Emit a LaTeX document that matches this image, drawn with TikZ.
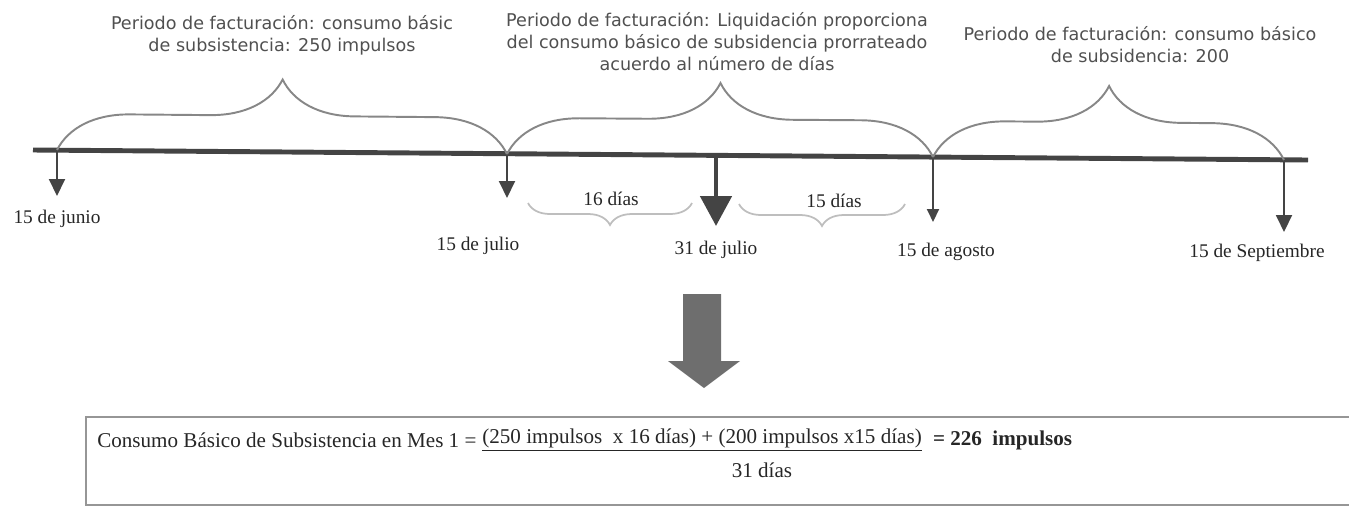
\documentclass[tikz,border=0pt]{standalone}
\usepackage{fontspec}
\setmainfont{Liberation Serif}
\newfontfamily\notefont{DejaVu Sans}
\usetikzlibrary{positioning,calc,decorations.pathreplacing,arrows.meta}
\definecolor{lineDark}{RGB}{68,68,68}
\definecolor{braceGray}{RGB}{135,135,135}
\definecolor{braceLight}{RGB}{190,190,190}
\definecolor{noteGray}{RGB}{80,80,80}
\definecolor{blockGray}{RGB}{110,110,110}
\definecolor{boxGray}{RGB}{150,150,150}

\begin{document}
\begin{tikzpicture}[
  x=0.02cm,y=-0.02cm,
  note/.style={font=\notefont\fontsize{10}{12.5}\selectfont,text=noteGray,align=center,inner sep=0pt},
  datelbl/.style={font=\fontsize{11}{13}\selectfont,text=black!85,inner sep=0pt},
  formula/.style={font=\fontsize{12}{14}\selectfont,text=black!85,inner sep=0pt},
  timeline/.style={line width=2.8pt,lineDark},
  datearrow/.style={-{Triangle[length=0.34cm,width=0.32cm]},line width=1.1pt,lineDark},
  bigarrow/.style={-{Triangle[length=0.6cm,width=0.62cm]},line width=2.8pt,lineDark},
  period/.style={decorate,decoration={brace,amplitude=1.45cm},braceGray,line width=1.1pt},
  dayspan/.style={decorate,decoration={brace,amplitude=0.44cm},braceLight,line width=1pt}
]
  \useasboundingbox (0,0) rectangle (1349,515);

  % time line and dates
  \coordinate (tl w) at (33,150);
  \coordinate (tl e) at (1308,160);
  \draw[timeline] (tl w) -- (tl e);

  \coordinate (jun) at (57,150);   \coordinate (jun tip) at (57,196);
  \coordinate (jul) at (507,154);  \coordinate (jul tip) at (507,198);
  \coordinate (mid) at (716,155);  \coordinate (mid tip) at (716,226);
  \coordinate (ago) at (933,157);  \coordinate (ago tip) at (933,222);
  \coordinate (sep) at (1284,160); \coordinate (sep tip) at (1284,232);

  \draw[datearrow] (jun) -- (jun tip);
  \draw[datearrow] (jul) -- (jul tip);
  \draw[bigarrow] (mid) -- (mid tip);
  \draw[datearrow,-{Triangle[length=0.26cm,width=0.24cm]}] (ago) -- (ago tip);
  \draw[datearrow] (sep) -- (sep tip);

  \node[datelbl] (jun lbl) at (57,219) {15 de junio};
  \node[datelbl] (jul lbl) at (478,246) {15 de julio};
  \node[datelbl] (mid lbl) at (716,250) {31 de julio};
  \node[datelbl] (ago lbl) at (946,252) {15 de agosto};
  \node[datelbl] (sep lbl) at (1257,253) {15 de Septiembre};

  % billing periods
  \draw[period] (jun) -- (jul);
  \draw[period] (jul) -- (ago);
  \draw[period] (ago) -- (sep);

  \node[note] (p1) at (282,35) {Periodo de facturación: consumo básic\\de subsistencia: 250 impulsos};
  \node[note] (p2) at (717,42) {Periodo de facturación: Liquidación proporciona\\del consumo básico de subsidencia prorrateado\\acuerdo al número de días};
  \node[note] (p3) at (1140,45) {Periodo de facturación: consumo básico\\de subsidencia: 200};

  % days in each part of the month
  \coordinate (d16 a) at (528,203); \coordinate (d16 b) at (692,203);
  \coordinate (d15 a) at (739,204); \coordinate (d15 b) at (905,204);
  \draw[dayspan] (d16 b) -- (d16 a);
  \draw[dayspan] (d15 b) -- (d15 a);
  \node[datelbl] (d16) at (611,199) {16 días};
  \node[datelbl] (d15) at (834,201) {15 días};

  % result
  \fill[blockGray] (683,294) -- (721,294) -- (721,361) -- (740,361) -- (704,388) -- (668,361) -- (683,361) -- cycle;

  \draw[boxGray,line width=0.9pt] (1349,417) -- (86,417) -- (86,505) -- (1349,505);
  \node[formula,anchor=west] (lhs) at (97,440) {Consumo Básico de Subsistencia en Mes 1 =};
  \node[formula,anchor=west] (num) at (482,440) {\underline{(250 impulsos\ \ x 16 días) + (200 impulsos x15 días)}};
  \node[formula,anchor=west,right=6pt of num] (res) {\textbf{= 226\ \ impulsos}};
  \node[formula] (den) at (762,470) {31 días};
\end{tikzpicture}
\end{document}
